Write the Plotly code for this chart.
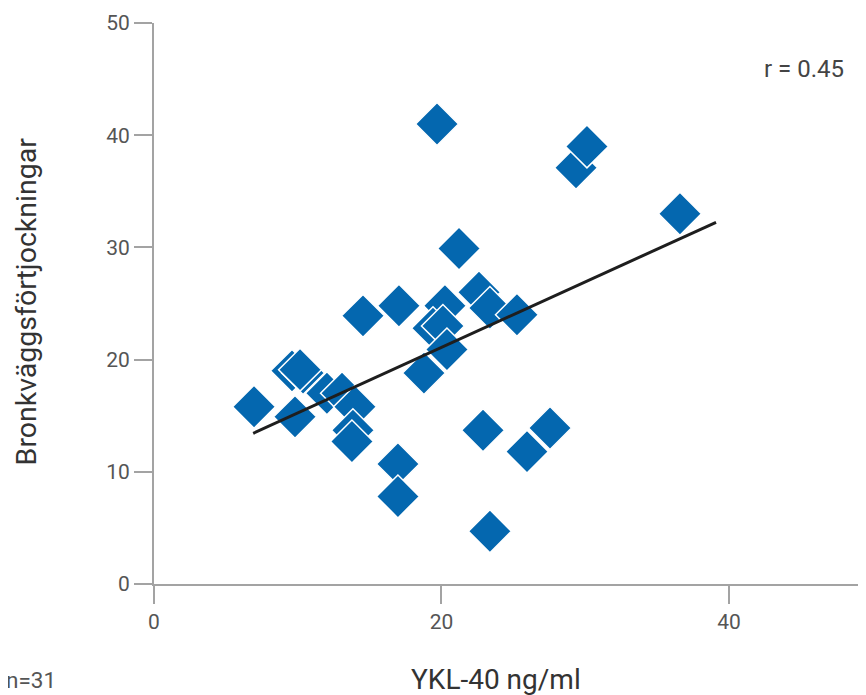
import plotly.graph_objects as go

# YKL-40 (ng/ml) and bronchial wall thickening values
ykl40 = [6.96, 9.60, 10.37, 9.81, 12.03, 13.08, 13.98, 13.84, 13.77, 14.54,
         17.04, 16.97, 16.97, 18.78, 19.69, 20.24, 19.41, 20.10, 20.38, 21.22,
         22.61, 23.37, 25.25, 22.89, 23.37, 25.95, 27.55, 29.36, 30.12, 36.59,
         10.16]
thickening = [15.8, 19.0, 18.8, 14.9, 17.0, 17.0, 15.8, 13.7, 12.7, 23.9,
              24.8, 10.7, 7.8, 18.8, 41.0, 24.8, 22.8, 23.0, 20.9, 29.9,
              26.0, 24.6, 24.0, 13.7, 4.7, 11.8, 13.9, 37.1, 39.0, 33.0,
              19.1]

# regression line end points
fit_x = [6.9, 39.1]
fit_y = [13.43, 32.24]

x_ticks = [0, 20, 40]
y_ticks = [0, 10, 20, 30, 40, 50]

FONT = "Roboto"
AXIS_COL = "#a3a3a3"
TICK_TXT = "#555555"
BLUE = "#0467AF"

fig = go.Figure()
fig.add_trace(go.Scatter(
    x=ykl40, y=thickening, mode="markers",
    marker=dict(symbol="diamond", size=33, color=BLUE,
                line=dict(color="white", width=1.5)),
    hoverinfo="x+y", showlegend=False))
fig.add_trace(go.Scatter(
    x=fit_x, y=fit_y, mode="lines",
    line=dict(color="#1e1e1e", width=3), showlegend=False))

fig.update_layout(
    width=866, height=695,
    margin=dict(l=146, r=0, t=15, b=119),
    paper_bgcolor="white", plot_bgcolor="white",
    font=dict(family=FONT, color=TICK_TXT),
    xaxis=dict(range=[0, 50.09], tickvals=x_ticks, showgrid=False, zeroline=False,
               showline=True, linecolor=AXIS_COL, linewidth=2,
               ticks="outside", ticklen=18, tickwidth=2, tickcolor=AXIS_COL,
               tickfont=dict(size=21, color=TICK_TXT, family=FONT),
               ticklabelstandoff=0),
    yaxis=dict(range=[0, 50], tickvals=y_ticks, showgrid=False, zeroline=False,
               showline=True, linecolor=AXIS_COL, linewidth=2,
               ticks="outside", ticklen=18, tickwidth=2, tickcolor=AXIS_COL,
               tickfont=dict(size=21, color=TICK_TXT, family=FONT),
               ticklabelstandoff=0),
    annotations=[
        dict(text="Bronkväggsförtjockningar", xref="paper", yref="paper",
             x=-0.177, y=0.503, textangle=-90, showarrow=False,
             xanchor="center", yanchor="middle",
             font=dict(size=28.5, color="#333333", family=FONT)),
        dict(text="YKL-40 ng/ml", xref="paper", yref="paper",
             x=0.475, y=-0.171, showarrow=False,
             xanchor="center", yanchor="middle",
             font=dict(size=28, color="#333333", family=FONT)),
        dict(text="n=31", xref="paper", yref="paper",
             x=-0.209, y=-0.171, showarrow=False,
             xanchor="left", yanchor="middle",
             font=dict(size=22.5, color="#555555", family=FONT)),
        dict(text="r = 0.45", xref="paper", yref="paper",
             x=0.9607, y=0.918, showarrow=False,
             xanchor="right", yanchor="middle",
             font=dict(size=24, color="#444444", family=FONT)),
    ],
)

fig.write_html("out.html")
